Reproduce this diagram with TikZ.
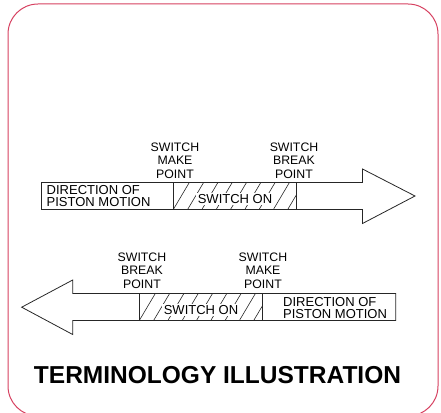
\documentclass[tikz,border=0pt]{standalone}
\usepackage{fontspec}
\setmainfont{Liberation Sans}
\usetikzlibrary{
  calc,
  positioning
}
\definecolor{framered}{RGB}{214,64,96}
\tikzset{>=latex}
\tikzset{
  outline/.style={draw=black!85, line width=0.8pt, line join=miter},
  hatch/.style={black!85, line width=0.6pt},
  pointlbl/.style={font=\fontsize{12.3}{13.3}\selectfont, align=center, inner sep=0pt},
  dirlbl/.style={font=\fontsize{13}{12.3}\selectfont, align=left, inner sep=0pt, anchor=west},
  onlbl/.style={font=\fontsize{13}{13}\selectfont, fill=white, inner sep=1.5pt},
}

\begin{document}
\begin{tikzpicture}[x=1pt,y=-1pt]
  \useasboundingbox (0,0) rectangle (441,412);
  \draw[framered, line width=1pt, rounded corners=30pt] (8,4) rectangle (438,416);
  % upper arrow, pointing right
  \draw[outline] (41.5,182.5) -- (362.5,182.5) -- (362.5,169) -- (415,196)
    -- (362.5,223.5) -- (362.5,209.5) -- (41.5,209.5) -- cycle;
  \begin{scope}
    \clip (173.3,182.5) rectangle (296.7,209.5);
    \foreach \x in {0,14.3,...,130}
      \draw[hatch] (173.3+\x,209.5) -- ++(16,-27);
  \end{scope}
  \draw[outline] (173.3,182.5) -- (173.3,209.5);
  \draw[outline] (296.7,182.5) -- (296.7,209.5);
  \node[onlbl] (on1) at (235,199) {SWITCH ON};
  \node[dirlbl] (dir1) at (46.5,196.2) {DIRECTION OF\\PISTON MOTION};
  \node[pointlbl] (make1) at (175,160.5) {SWITCH\\MAKE\\POINT};
  \node[pointlbl] (break1) at (294,160.5) {SWITCH\\BREAK\\POINT};
  % lower arrow, pointing left
  \draw[outline] (395.7,293.5) -- (72.7,293.5) -- (72.7,280) -- (21.7,307.2)
    -- (72.7,334.5) -- (72.7,320.5) -- (395.7,320.5) -- cycle;
  \begin{scope}
    \clip (139.3,293.5) rectangle (262.7,320.5);
    \foreach \x in {0,14.3,...,130}
      \draw[hatch] (139.3+\x,320.5) -- ++(16,-27);
  \end{scope}
  \draw[outline] (139.3,293.5) -- (139.3,320.5);
  \draw[outline] (262.7,293.5) -- (262.7,320.5);
  \node[onlbl] (on2) at (201,310) {SWITCH ON};
  \node[dirlbl] (dir2) at (283,307.8) {DIRECTION OF\\PISTON MOTION};
  \node[pointlbl] (break2) at (142,270.7) {SWITCH\\BREAK\\POINT};
  \node[pointlbl] (make2) at (263,270.7) {SWITCH\\MAKE\\POINT};
  % caption
  \node[font=\fontsize{24.5}{24.5}\selectfont\bfseries, inner sep=0pt] (title)
    at (217.5,375) {TERMINOLOGY ILLUSTRATION};
\end{tikzpicture}
\end{document}
